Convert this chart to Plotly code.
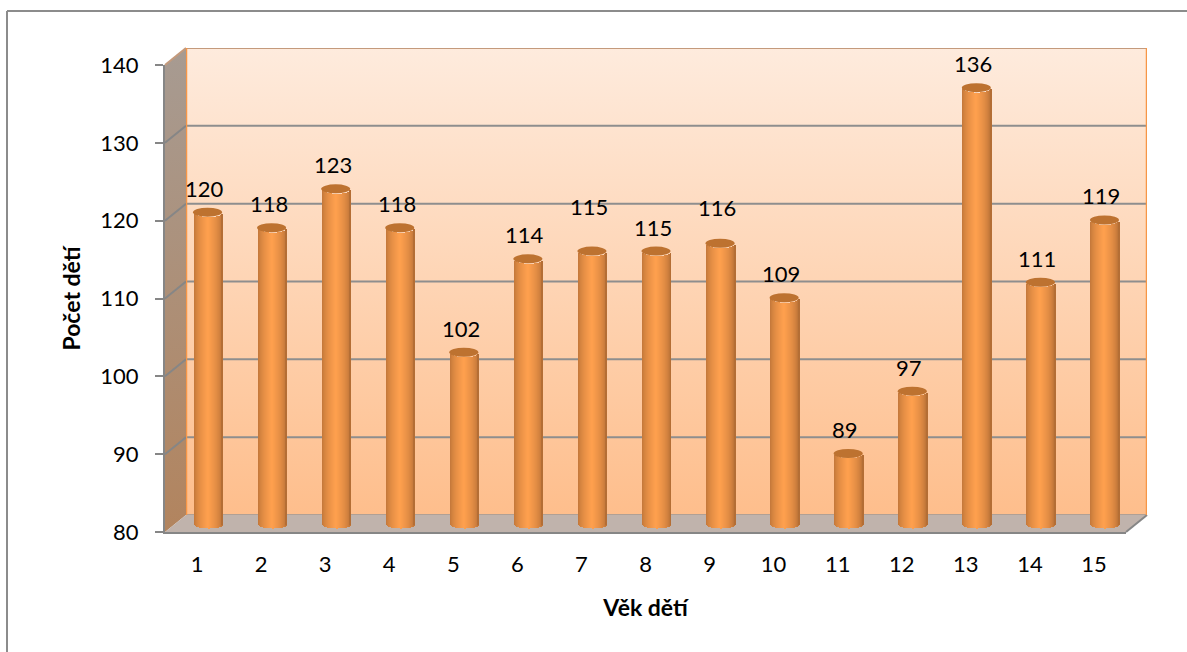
import numpy as np
import plotly.graph_objects as go

ages = list(range(1, 16))
counts = [120, 118, 123, 118, 102, 114, 115, 115, 116, 109, 89, 97, 136, 111, 119]
y_ticks = [80, 90, 100, 110, 120, 130, 140]
x_title = 'Věk dětí'
y_title = 'Počet dětí'
# two data labels were dragged up by hand in the original
label_lift = {7: 21, 9: 12}

W, H = 1187, 652
LEFT, RIGHT, TOP, BOTTOM = 165, 1126, 65, 532
DX, DY = 21, -17
FONT = 'Lato'
GREY = '#868686'
SLICE = 29       # cylinder width in px
CAP = 4.5        # half height of the cylinder cap in px

x_unit = (RIGHT - LEFT) / 15
y_unit = (BOTTOM - TOP) / 60
BAR_FLOOR = 79   # bar axes reach a bit lower, so the rounded foot is not clipped


def dom_x(shift):
  return [(LEFT + shift) / W, (RIGHT + shift) / W]

def dom_y(shift, low=80):
  return [(H - BOTTOM - shift - (80 - low) * y_unit) / H, (H - TOP - shift) / H]

def cyl_color(u):
  # u runs -1..1 over the cylinder, brightest a bit left of the middle
  t = max(0, 1 - abs(u + 0.05) / 1.05) ** 0.45
  dark, light = np.array([160, 96, 46]), np.array([255, 160, 78])
  r, g, b = dark + (light - dark) * t
  return f'rgb({r:.0f},{g:.0f},{b:.0f})'


fig = go.Figure()

# side wall and floor, in plain pixel axes (xy is drawn first)
fig.add_trace(go.Scatter(
  x=[LEFT, LEFT + DX, LEFT + DX, LEFT, LEFT],
  y=[TOP, TOP + DY, BOTTOM + DY, BOTTOM, TOP],
  mode='lines', line=dict(width=0), fill='toself',
  fillgradient=dict(type='vertical', colorscale=[[0, '#B2845E'], [1, '#A79B92']]),
  hoverinfo='skip', xaxis='x', yaxis='y'))
fig.add_trace(go.Scatter(
  x=[LEFT, LEFT + DX, RIGHT + DX, RIGHT, LEFT],
  y=[BOTTOM, BOTTOM + DY, BOTTOM + DY, BOTTOM, BOTTOM],
  mode='lines', line=dict(width=0), fill='toself', fillcolor='#C0B3AC',
  hoverinfo='skip', xaxis='x', yaxis='y'))
for t in y_ticks:
  py = BOTTOM - (t - 80) * y_unit
  c = '#C49A7C' if t == 140 else GREY
  if t > 80:
    fig.add_trace(go.Scatter(
      x=[LEFT, LEFT + DX], y=[py, py + DY], mode='lines',
      line=dict(color=c, width=2), hoverinfo='skip', xaxis='x', yaxis='y'))
fig.add_trace(go.Scatter(
  x=[RIGHT, RIGHT + DX], y=[BOTTOM, BOTTOM + DY], mode='lines',
  line=dict(color=GREY, width=2), hoverinfo='skip', xaxis='x', yaxis='y'))

# back wall
fig.add_trace(go.Scatter(
  x=[0.5, 15.5, 15.5, 0.5, 0.5], y=[80, 80, 140, 140, 80],
  mode='lines', line=dict(width=0), fill='toself',
  fillgradient=dict(type='vertical', colorscale=[[0, '#FEBE8C'], [1, '#FEEBDD']]),
  hoverinfo='skip', xaxis='x2', yaxis='y2'))
for t in y_ticks[1:-1]:
  fig.add_trace(go.Scatter(
    x=[0.5, 15.5], y=[t, t], mode='lines', line=dict(color='#8E8E8E', width=2),
    hoverinfo='skip', xaxis='x2', yaxis='y2'))
fig.add_trace(go.Scatter(
  x=[0.5, 15.5], y=[140, 140], mode='lines', line=dict(color='#C49A7C', width=2),
  hoverinfo='skip', xaxis='x2', yaxis='y2'))
fig.add_trace(go.Scatter(
  x=[0.5, 15.5], y=[80, 80], mode='lines', line=dict(color='#B0A095', width=2),
  hoverinfo='skip', xaxis='x2', yaxis='y2'))
for edge in (0.5, 15.5):
  fig.add_trace(go.Scatter(
    x=[edge, edge], y=[80, 140], mode='lines', line=dict(color='#F79646', width=2.5),
    hoverinfo='skip', xaxis='x2', yaxis='y2'))

# front axes only carry ticks and titles; they need a visible trace
fig.add_trace(go.Scatter(
  x=ages, y=counts, mode='markers', marker=dict(opacity=0),
  hoverinfo='skip', xaxis='x3', yaxis='y3'))

# cylinders, one bar trace per pixel slice
vals = np.array(counts, dtype=float)
for i in range(SLICE):
  u = (i + 0.5) / SLICE * 2 - 1
  drop = CAP * np.sqrt(1 - u ** 2) / y_unit
  fig.add_trace(go.Bar(
    x=ages, y=vals - 80, base=[80 - drop] * len(ages),
    width=(2 if i < SLICE - 1 else 1) / x_unit,
    offset=(i - SLICE / 2) / x_unit,
    marker=dict(color=cyl_color(u), line=dict(width=0)),
    cliponaxis=False, hoverinfo='skip', xaxis='x4', yaxis='y4'))

# cylinder caps
half_w = SLICE / 2 / x_unit
for a, v in zip(ages, counts):
  fig.add_shape(
    type='circle', xref='x4', yref='y4',
    x0=a - half_w, x1=a + half_w,
    y0=v - CAP / y_unit, y1=v + CAP / y_unit,
    fillcolor='#BD7230', line=dict(width=0), layer='above')

# data labels
for a, v in zip(ages, counts):
  fig.add_annotation(
    xref='x4', yref='y4', x=a, y=v, text=str(v), showarrow=False,
    xshift=-3, yshift=24 + label_lift.get(a, 0),
    font=dict(family=FONT, size=22, color='#000000'))

# frame of the chart area, runs off the picture right and below
fig.add_shape(type='line', xref='paper', yref='paper', x0=7 / W, x1=1,
              y0=1 - 11 / H, y1=1 - 11 / H, line=dict(color='#8C8C8C', width=2))
fig.add_shape(type='line', xref='paper', yref='paper', x0=7 / W, x1=7 / W,
              y0=0, y1=1 - 11 / H, line=dict(color='#8C8C8C', width=2))

hidden = dict(visible=False)
fig.update_layout(
  width=W, height=H, margin=dict(l=0, r=0, t=0, b=0, autoexpand=False),
  paper_bgcolor='white', plot_bgcolor='rgba(0,0,0,0)',
  showlegend=False, barmode='overlay', bargap=0,
  font=dict(family=FONT, size=22, color='#000000'),
  xaxis=dict(domain=[0, 1], range=[0, W], **hidden),
  yaxis=dict(domain=[0, 1], range=[H, 0], **hidden),
  xaxis2=dict(domain=dom_x(DX), range=[0.5, 15.5], anchor='y2', **hidden),
  yaxis2=dict(domain=dom_y(DY), range=[80, 140], anchor='x2', **hidden),
  xaxis3=dict(
    domain=dom_x(0), range=[0.5, 15.5], anchor='y3', tickmode='array', tickvals=ages,
    ticks='', showgrid=False, zeroline=False, showline=True, linecolor=GREY, linewidth=2,
    ticklabelstandoff=12,
    title=dict(text=x_title, standoff=23, font=dict(family=FONT, size=23, weight='bold'))),
  yaxis3=dict(
    domain=dom_y(0), range=[80, 140], anchor='x3', tickvals=y_ticks,
    ticks='outside', ticklen=8, tickwidth=2, tickcolor=GREY, showgrid=False, zeroline=False,
    showline=True, linecolor=GREY, linewidth=2, ticklabelstandoff=12,
    title=dict(text=y_title, standoff=13, font=dict(family=FONT, size=23, weight='bold'))),
  xaxis4=dict(domain=dom_x(DX / 2), range=[0.5, 15.5], anchor='y4', **hidden),
  yaxis4=dict(domain=dom_y(DY / 2, BAR_FLOOR), range=[BAR_FLOOR, 140], anchor='x4', **hidden),
)

fig.write_html("out.html", config=dict(displayModeBar=False),
               post_script="document.body.style.margin='0'")
